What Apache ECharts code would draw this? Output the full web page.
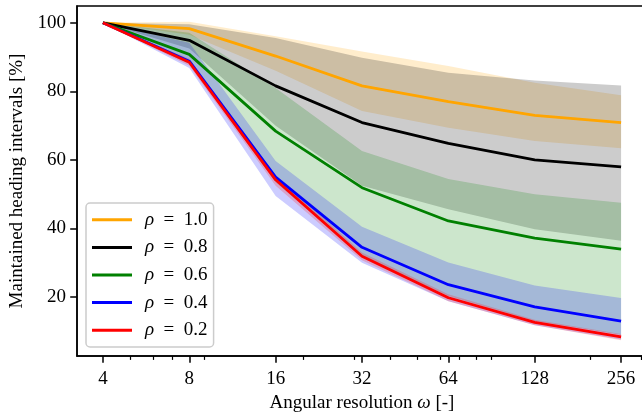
<!doctype html>
<html lang="en">
<head>
<meta charset="UTF-8" />
<title>Maintained heading intervals</title>
<script src="https://cdn.jsdelivr.net/npm/echarts@6.0.0/dist/echarts.min.js"></script>
<style>html, body { margin: 0; padding: 0; background: #fff; }</style>
</head>
<body>
<div id="main" style="width: 642px; height: 417px"></div>
<script>
// angular resolution (x, log2 axis) and tick values
const omega = [4, 8, 16, 32, 64, 128, 256];
const minorTicks = [5, 6, 7, 9, 20, 30, 40, 50, 60, 70, 80, 90, 200, 300];
const yTicks = [20, 40, 60, 80, 100];

const rhoLabels = ["1.0", "0.8", "0.6", "0.4", "0.2"];

// mean curves
const mean10 = [100, 98.3, 90.3, 81.6, 77.0, 73.0, 70.9];
const mean08 = [100, 94.9, 81.6, 70.9, 64.8, 60.0, 58.0];
const mean06 = [100, 90.8, 68.4, 51.9, 42.2, 37.2, 34.0];
const mean04 = [100, 88.8, 55.0, 34.5, 23.6, 17.1, 13.0];
const mean02 = [100, 88.5, 54.2, 31.9, 19.8, 12.6, 8.4];

// shaded bands (upper / lower)
const high10 = [100, 100.3, 96.1, 91.6, 87.4, 82.5, 78.9];
const low10 = [100, 96.5, 86.0, 74.3, 69.4, 65.5, 63.4];
const high08 = [100, 99.6, 95.6, 89.8, 85.4, 83.2, 81.7];
const low08 = [100, 92.5, 70.0, 52.5, 45.6, 39.8, 36.4];
const high06 = [100, 97.1, 81.0, 62.6, 54.4, 50.0, 47.5];
const low06 = [100, 88.0, 53.5, 31.8, 20.3, 13.0, 9.0];
const high04 = [100, 94.2, 59.7, 40.5, 30.1, 23.4, 19.7];
const low04 = [100, 86.8, 49.5, 30.0, 18.8, 11.8, 7.6];
const high02 = [100, 89.5, 55.5, 33.0, 20.8, 13.4, 9.2];
const low02 = [100, 87.5, 52.5, 30.7, 18.8, 11.8, 7.4];

const colors = ["#ffa500", "#000000", "#008000", "#0000ff", "#ff0000"];
const bandColors = [
    "rgba(255,165,0,0.2)",
    "rgba(0,0,0,0.2)",
    "rgba(0,128,0,0.2)",
    "rgba(0,0,255,0.2)",
    "rgba(255,0,0,0.2)",
];

const means = [mean10, mean08, mean06, mean04, mean02];
const highs = [high10, high08, high06, high04, high02];
const lows = [low10, low08, low06, low04, low02];

const font = "Liberation Serif";
const xs = omega.map(Math.log2);

const series = [];
// bands: one polygon per rho, drawn through the axes with api.coord
rhoLabels.forEach((r, i) => {
    series.push({
        type: "custom",
        silent: true,
        z: 1,
        clip: true,
        data: xs.map((x, k) => [x, lows[i][k], highs[i][k]]),
        encode: { x: 0, y: [1, 2] },
        renderItem: (params, api) => {
            if (params.dataIndex !== 0) return null;
            const top = xs.map((x, k) => api.coord([x, highs[i][k]]));
            const bottom = xs.map((x, k) => api.coord([x, lows[i][k]])).reverse();
            return {
                type: "polygon",
                shape: { points: top.concat(bottom) },
                style: { fill: bandColors[i] },
            };
        },
    });
});
// mean lines on top
rhoLabels.forEach((r, i) => {
    series.push({
        name: "ρ = " + r,
        type: "line",
        data: xs.map((x, k) => [x, means[i][k]]),
        symbol: "none",
        color: colors[i],
        lineStyle: { width: 2.8, color: colors[i] },
        z: 3,
    });
});

const myChart = echarts.init(document.getElementById("main"));

const options = {
    animation: false,
    grid: {
        left: 77,
        top: 6,
        right: -5,
        bottom: 61,
        show: true,
        borderColor: "#000",
        borderWidth: 1.5,
        outerBoundsMode: "none",
    },
    legend: {
        data: rhoLabels.map((r) => "ρ = " + r),
        orient: "vertical",
        left: 86,
        top: 203,
        icon: "rect",
        itemWidth: 40,
        itemHeight: 3,
        itemGap: 7.6,
        itemStyle: { borderWidth: 0 },
        padding: [6.8, 6, 6.8, 6],
        backgroundColor: "rgba(255,255,255,0.8)",
        borderColor: "#cccccc",
        borderWidth: 1.5,
        borderRadius: 4,
        formatter: (name) => "{i|ρ}\u2002=\u2002" + name.split(" = ")[1],
        textStyle: {
            fontFamily: font,
            fontSize: 19,
            lineHeight: 20,
            color: "#000",
            rich: {
                i: { fontStyle: "italic", fontFamily: font, fontSize: 19, padding: [0, 0, 0, 8] },
            },
        },
    },
    xAxis: [
        {
            type: "value",
            min: 1.7,
            max: 8.3,
            name: "Angular resolution {i|ω} [-]",
            nameLocation: "middle",
            nameGap: 36,
            nameTextStyle: {
                fontFamily: font,
                fontSize: 19,
                color: "#000",
                rich: { i: { fontStyle: "italic", fontFamily: font, fontSize: 19 } },
            },
            axisLine: { onZero: false, lineStyle: { color: "#000", width: 1.5 } },
            axisTick: {
                customValues: xs,
                length: 6.8,
                lineStyle: { color: "#000", width: 1.5 },
            },
            axisLabel: {
                customValues: xs,
                formatter: (v) => String(omega[xs.indexOf(v)] ?? Math.round(Math.pow(2, v))),
                fontFamily: font,
                fontSize: 19,
                color: "#000",
                margin: 14,
            },
            splitLine: { show: false },
        },
        {
            type: "value",
            min: 1.7,
            max: 8.3,
            position: "bottom",
            axisLine: { show: false },
            axisTick: {
                customValues: minorTicks.map(Math.log2),
                length: 3.9,
                lineStyle: { color: "#000", width: 1.2 },
            },
            axisLabel: { show: false },
            splitLine: { show: false },
        },
    ],
    yAxis: {
        type: "value",
        min: 2.8,
        max: 104.9,
        name: "Maintained heading intervals [%]",
        nameLocation: "middle",
        nameGap: 50,
        nameTextStyle: { fontFamily: font, fontSize: 19, color: "#000" },
        axisLine: { show: true, lineStyle: { color: "#000", width: 1.5 } },
        axisTick: {
            show: true,
            customValues: yTicks,
            length: 6.8,
            lineStyle: { color: "#000", width: 1.5 },
        },
        axisLabel: {
            customValues: yTicks,
            fontFamily: font,
            fontSize: 19,
            color: "#000",
            margin: 11,
        },
        splitLine: { show: false },
    },
    series: series,
};

myChart.setOption(options);
</script>
</body>
</html>
